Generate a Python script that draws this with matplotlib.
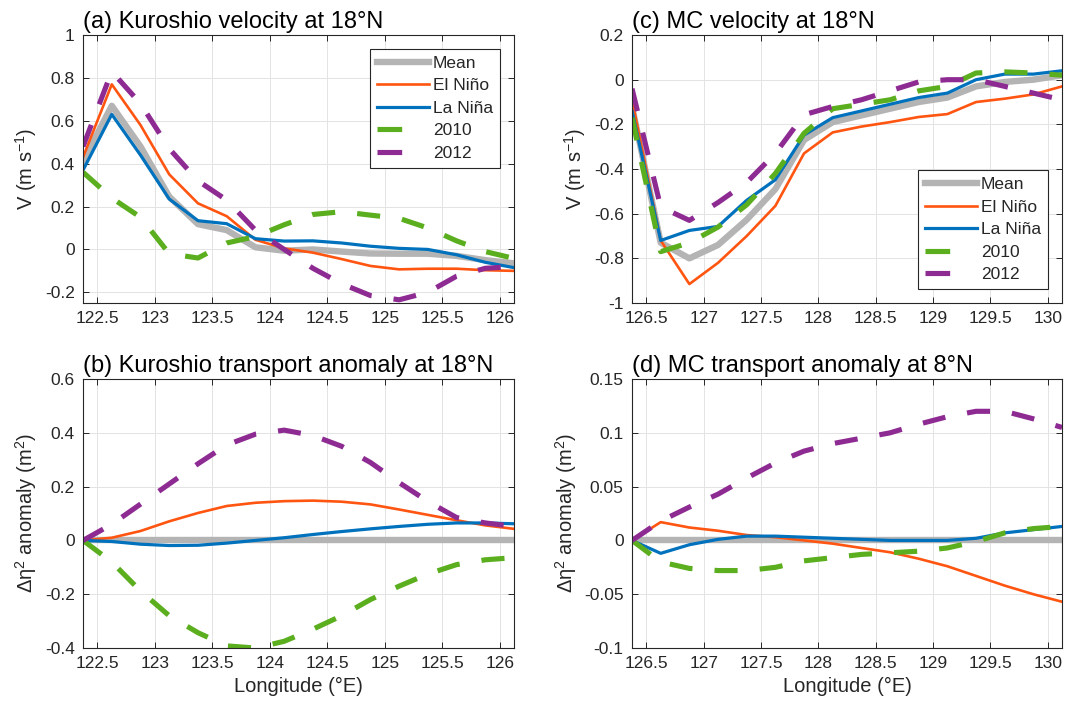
import numpy as np
import matplotlib
matplotlib.use("Agg")
import matplotlib.pyplot as plt
from matplotlib.ticker import FuncFormatter, MultipleLocator

plt.rcParams["font.family"] = ["Liberation Sans", "DejaVu Sans"]
plt.rcParams["mathtext.fontset"] = "custom"
plt.rcParams["mathtext.rm"] = "Liberation Sans"
plt.rcParams["mathtext.it"] = "Liberation Sans:italic"
plt.rcParams["text.color"] = "#262626"

# ─────────────────────────────────────────────
#  Data
# ─────────────────────────────────────────────

lon_k = [122.375, 122.625, 122.875, 123.125, 123.375, 123.625, 123.875, 124.125,
         124.375, 124.625, 124.875, 125.125, 125.375, 125.625, 125.875, 126.125]
lon_m = [126.375, 126.625, 126.875, 127.125, 127.375, 127.625, 127.875, 128.125,
         128.375, 128.625, 128.875, 129.125, 129.375, 129.625, 129.875, 130.125]

# (a) Kuroshio velocity at 18N
vk_mean = [0.41, 0.67, 0.48, 0.246, 0.118, 0.09, 0.01, -0.006,
           0.0, -0.01, -0.019, -0.02, -0.02, -0.03, -0.05, -0.065]
vk_elnino = [0.43, 0.77, 0.58, 0.35, 0.215, 0.155, 0.045, 0.005,
             -0.015, -0.045, -0.077, -0.093, -0.09, -0.09, -0.097, -0.1]
vk_lanina = [0.37, 0.63, 0.44, 0.235, 0.134, 0.12, 0.05, 0.039,
             0.04, 0.03, 0.015, 0.005, 0.0, -0.025, -0.06, -0.085]
vk_2010 = [0.36, 0.24, 0.15, -0.02, -0.04, 0.03, 0.06, 0.115,
           0.163, 0.176, 0.16, 0.145, 0.1, 0.04, -0.01, -0.042]
vk_2012 = [0.48, 0.83, 0.68, 0.47, 0.32, 0.23, 0.09, 0.0,
           -0.088, -0.16, -0.215, -0.235, -0.2, -0.125, -0.088, -0.08]

# (b) Kuroshio transport anomaly at 18N
tk_mean = [0.0, 0.0, 0.0, 0.0, 0.0, 0.0, 0.0, 0.0,
           0.0, 0.0, 0.0, 0.0, 0.0, 0.0, 0.0, 0.0]
tk_elnino = [0.0, 0.01, 0.035, 0.071, 0.102, 0.128, 0.14, 0.146,
             0.148, 0.144, 0.134, 0.115, 0.095, 0.075, 0.056, 0.043]
tk_lanina = [0.0, -0.004, -0.014, -0.019, -0.018, -0.01, 0.0, 0.01,
             0.022, 0.033, 0.043, 0.052, 0.06, 0.065, 0.065, 0.062]
tk_2010 = [0.0, -0.08, -0.188, -0.28, -0.343, -0.392, -0.4, -0.375,
           -0.33, -0.28, -0.22, -0.17, -0.125, -0.09, -0.072, -0.064]
tk_2012 = [0.0, 0.06, 0.135, 0.21, 0.285, 0.355, 0.395, 0.41,
           0.39, 0.35, 0.29, 0.215, 0.145, 0.085, 0.065, 0.052]

# (c) MC velocity
vm_mean = [-0.12, -0.73, -0.8, -0.74, -0.627, -0.49, -0.27, -0.19,
           -0.16, -0.13, -0.1, -0.08, -0.03, -0.01, 0.0, 0.02]
vm_elnino = [-0.09, -0.72, -0.915, -0.82, -0.7, -0.565, -0.33, -0.236,
             -0.21, -0.19, -0.167, -0.154, -0.1, -0.085, -0.066, -0.03]
vm_lanina = [-0.14, -0.72, -0.675, -0.657, -0.54, -0.448, -0.248, -0.17,
             -0.14, -0.11, -0.08, -0.06, 0.0, 0.025, 0.025, 0.04]
vm_2010 = [-0.17, -0.77, -0.73, -0.66, -0.56, -0.42, -0.24, -0.13,
           -0.11, -0.09, -0.05, -0.03, 0.03, 0.035, 0.03, 0.02]
vm_2012 = [-0.04, -0.57, -0.63, -0.55, -0.46, -0.33, -0.157, -0.12,
           -0.09, -0.05, -0.01, 0.0, 0.0, -0.03, -0.06, -0.09]

# (d) MC transport anomaly at 8N
td_mean = [0.0, 0.0, 0.0, 0.0, 0.0, 0.0, 0.0, 0.0,
           0.0, 0.0, 0.0, 0.0, 0.0, 0.0, 0.0, 0.0]
td_elnino = [0.0, 0.017, 0.012, 0.009, 0.005, 0.003, 0.0, -0.003,
             -0.007, -0.011, -0.017, -0.024, -0.033, -0.042, -0.05, -0.057]
td_lanina = [0.0, -0.012, -0.004, 0.001, 0.004, 0.004, 0.003, 0.002,
             0.001, 0.0, 0.0, 0.0, 0.002, 0.007, 0.01, 0.013]
td_2010 = [0.0, -0.02, -0.026, -0.028, -0.028, -0.025, -0.019, -0.016,
           -0.013, -0.0115, -0.01, -0.007, -0.001, 0.007, 0.011, 0.013]
td_2012 = [0.0, 0.018, 0.031, 0.043, 0.058, 0.072, 0.083, 0.09,
           0.095, 0.1, 0.108, 0.115, 0.12, 0.12, 0.113, 0.105]

labels = ["Mean", "El Niño", "La Niña", "2010", "2012"]

# ─────────────────────────────────────────────
#  Styles
# ─────────────────────────────────────────────

STYLES = [
    dict(color="#B4B4B4", lw=4.6),
    dict(color="#FF5511", lw=1.9),
    dict(color="#0072BD", lw=2.3),
    dict(color="#5BAE1E", lw=3.7, ls=(0, (4.5, 4.3))),
    dict(color="#8E2B93", lw=3.7, ls=(0, (4.5, 4.3))),
]
DARK = "#262626"


def fmt(v, pos):
    return f"{v:g}" if abs(v) > 1e-9 else "0"


def draw_panel(ax, lon, series, title, ylabel, ylim, ystep, xlim, xticks):
    lines = []
    for y, st, lab in zip(series, STYLES, labels):
        ln, = ax.plot(lon, y, label=lab, **st)
        lines.append(ln)
    ax.set_xlim(*xlim)
    ax.set_ylim(*ylim)
    ax.set_xticks(xticks)
    ax.yaxis.set_major_locator(MultipleLocator(ystep))
    ax.xaxis.set_major_formatter(FuncFormatter(fmt))
    ax.yaxis.set_major_formatter(FuncFormatter(fmt))
    ax.grid(True, color="#E3E3E3", lw=0.7)
    ax.set_axisbelow(True)
    ax.tick_params(direction="in", length=4, width=0.7, top=True, right=True,
                   labelsize=12.5, colors=DARK, pad=6)
    for s in ax.spines.values():
        s.set_color(DARK)
        s.set_linewidth(0.8)
    ax.set_title(title, loc="left", fontsize=17, pad=5, color="black")
    ax.set_ylabel(ylabel, fontsize=14.5, color=DARK)
    return lines


def add_legend(ax, loc):
    leg = ax.legend(loc=loc, fontsize=12.5, handlelength=3.0, handletextpad=0.25,
                    labelspacing=0.42, borderpad=0.4, borderaxespad=0.8,
                    fancybox=False, framealpha=1, edgecolor=DARK)
    leg.get_frame().set_linewidth(0.8)
    # MATLAB shows only a single dash for the dashed entries
    for hl in leg.get_lines()[3:]:
        hl.set_linestyle((0, (4.8, 40)))
    return leg


fig = plt.figure(figsize=(10.66, 7.09), dpi=100)
ax_a = fig.add_axes([0.0779, 0.5726, 0.4043, 0.3780])
ax_b = fig.add_axes([0.0779, 0.0860, 0.4043, 0.3794])
ax_c = fig.add_axes([0.5929, 0.5726, 0.4034, 0.3780])
ax_d = fig.add_axes([0.5929, 0.0860, 0.4034, 0.3794])

xt_k = [122.5, 123, 123.5, 124, 124.5, 125, 125.5, 126]
xt_m = [126.5, 127, 127.5, 128, 128.5, 129, 129.5, 130]
vlab = r"V (m s$^{-1}$)"
tlab = r"Δη$^2$ anomaly (m$^2$)"

draw_panel(ax_a, lon_k, [vk_mean, vk_elnino, vk_lanina, vk_2010, vk_2012],
           "(a) Kuroshio velocity at 18°N", vlab, (-0.25, 1), 0.2,
           (lon_k[0], lon_k[-1]), xt_k)
draw_panel(ax_b, lon_k, [tk_mean, tk_elnino, tk_lanina, tk_2010, tk_2012],
           "(b) Kuroshio transport anomaly at 18°N", tlab, (-0.4, 0.6), 0.2,
           (lon_k[0], lon_k[-1]), xt_k)
draw_panel(ax_c, lon_m, [vm_mean, vm_elnino, vm_lanina, vm_2010, vm_2012],
           "(c) MC velocity at 18°N", vlab, (-1, 0.2), 0.2,
           (lon_m[0], lon_m[-1]), xt_m)
draw_panel(ax_d, lon_m, [td_mean, td_elnino, td_lanina, td_2010, td_2012],
           "(d) MC transport anomaly at 8°N", tlab, (-0.1, 0.15), 0.05,
           (lon_m[0], lon_m[-1]), xt_m)

add_legend(ax_a, "upper right")
add_legend(ax_c, "lower right")

for ax in (ax_b, ax_d):
    ax.set_xlabel("Longitude (°E)", fontsize=14.5, color=DARK)

fig.savefig("out.png", dpi=100)
